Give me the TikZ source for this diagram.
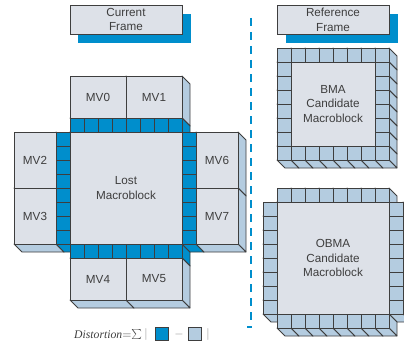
\documentclass[tikz,border=0pt]{standalone}
\usepackage{fontspec}
\setmainfont{Liberation Sans}
\newfontfamily\serifit{Liberation Serif}
\usepackage{tikz}
\usetikzlibrary{positioning}
\definecolor{mvgrey}{RGB}{221,225,232}
\definecolor{mvside}{RGB}{180,204,224}
\definecolor{mvblue}{RGB}{0,142,204}
\definecolor{edgegrey}{RGB}{62,62,62}
\definecolor{signgrey}{RGB}{140,140,140}
\pgfdeclarelayer{back}
\pgfsetlayers{back,main}
% block: x, y, width, height, front colour, side colour
\newcommand{\blk}[6]{%
  \begin{pgfonlayer}{back}
    \filldraw[blkline, fill=#6] (#1+#3,#2) -- ++(8,8) -- ++(0,#4) -- ++(-8,-8) -- cycle;
    \filldraw[blkline, fill=#6] (#1,#2+#4) -- ++(#3,0) -- ++(8,8) -- ++(-#3,0) -- cycle;
  \end{pgfonlayer}
  \filldraw[blkline, fill=#5] (#1,#2) rectangle ++(#3,#4);
}

\begin{document}
\begin{tikzpicture}[x=1pt, y=-1pt,
    blkline/.style={draw=edgegrey, line width=0.8pt, line join=round},
    lbl/.style={text=edgegrey, font=\fontsize{11.7}{14.8}\selectfont, align=center, inner sep=0pt},
    titlebox/.style={draw=edgegrey, line width=0.9pt, fill=mvgrey},
    shadowbox/.style={fill=mvblue},
    divider/.style={draw=mvblue, line width=2pt, dash pattern=on 8pt off 6pt},
    sqr/.style={draw=edgegrey, line width=0.8pt, minimum size=13.5pt, inner sep=0pt},
    sign/.style={text=signgrey, inner sep=0pt, font=\fontsize{11.7}{14}\selectfont}]
    \useasboundingbox (0,0) rectangle (404,345);

    % frame titles
    \fill[shadowbox] (78,14) rectangle (191,43);
    \filldraw[titlebox] (70,5) rectangle (182,34);
    \node[lbl] (cur) at (126,19.5) {Current\\Frame};
    \fill[shadowbox] (286,14) rectangle (398,43);
    \filldraw[titlebox] (277,5) rectangle (389,34);
    \node[lbl] (ref) at (333,19.5) {Reference\\Frame};

    % divider
    \coordinate (dtop) at (251,18);
    \coordinate (dbot) at (251,327);
    \draw[divider] (dtop) -- (dbot) -- ++(-4,0);

    % current frame: neighbours, lost macroblock and its border
    \blk{70}{76}{56}{42}{mvgrey}{mvside}
    \blk{126}{76}{56}{42}{mvgrey}{mvside}
    \blk{14}{132}{42}{56}{mvgrey}{mvside}
    \blk{14}{188}{42}{56}{mvgrey}{mvside}
    \blk{70}{132}{112}{112}{mvgrey}{mvside}
    \foreach \i in {0,...,7} {
        \blk{70+14*\i}{118}{14}{14}{mvblue}{mvblue}
        \blk{70+14*\i}{244}{14}{14}{mvblue}{mvblue}
        \blk{56}{132+14*\i}{14}{14}{mvblue}{mvblue}
        \blk{182}{132+14*\i}{14}{14}{mvblue}{mvblue}
    }
    \blk{70}{258}{56}{42}{mvgrey}{mvside}
    \blk{126}{258}{56}{42}{mvgrey}{mvside}
    \blk{196}{132}{42}{56}{mvgrey}{mvside}
    \blk{196}{188}{42}{56}{mvgrey}{mvside}

    \node[lbl] (mv0) at (98,97) {MV0};
    \node[lbl] (mv1) at (154,97) {MV1};
    \node[lbl] (mv2) at (35,160) {MV2};
    \node[lbl] (mv3) at (35,216) {MV3};
    \node[lbl] (mv4) at (98,279) {MV4};
    \node[lbl] (mv5) at (154,279) {MV5};
    \node[lbl] (mv6) at (217,160) {MV6};
    \node[lbl] (mv7) at (217,216) {MV7};
    \node[lbl] (lost) at (126,188) {Lost\\Macroblock};

    % reference frame: BMA candidate
    \blk{291}{62}{84}{84}{mvgrey}{mvside}
    \foreach \i in {0,...,7} {
        \blk{277+14*\i}{48}{14}{14}{mvside}{mvside}
    }
    \foreach \j in {1,...,6} {
        \blk{277}{48+14*\j}{14}{14}{mvside}{mvside}
        \blk{375}{48+14*\j}{14}{14}{mvside}{mvside}
    }
    \foreach \i in {0,...,7} {
        \blk{277+14*\i}{146}{14}{14}{mvside}{mvside}
    }
    \node[lbl] (bma) at (333,104) {BMA\\Candidate\\Macroblock};

    % reference frame: OBMA candidate
    \blk{277}{202}{112}{112}{mvgrey}{mvside}
    \foreach \i in {0,...,7} {
        \blk{277+14*\i}{188}{14}{14}{mvside}{mvside}
        \blk{263}{202+14*\i}{14}{14}{mvside}{mvside}
        \blk{389}{202+14*\i}{14}{14}{mvside}{mvside}
        \blk{277+14*\i}{314}{14}{14}{mvside}{mvside}
    }
    \node[lbl] (obma) at (333,258) {OBMA\\Candidate\\Macroblock};

    % distortion measure
    \node[anchor=base west, inner sep=0pt, text=edgegrey, font=\serifit\fontsize{11.7}{14}\selectfont] (dist) at (74,338)
        {\textit{Distortion}$=${\fontsize{14}{16}\selectfont$\sum$}};
    \node[sign, right=2pt of dist] (bara) {$|$};
    \node[sqr, fill=mvblue] (sqa) at (162,334) {};
    \node[sign, right=5pt of sqa] (minus) {$-$};
    \node[sqr, fill=mvside, right=4pt of minus] (sqb) {};
    \node[sign, right=4pt of sqb] (bar) {$|$};
\end{tikzpicture}
\end{document}
